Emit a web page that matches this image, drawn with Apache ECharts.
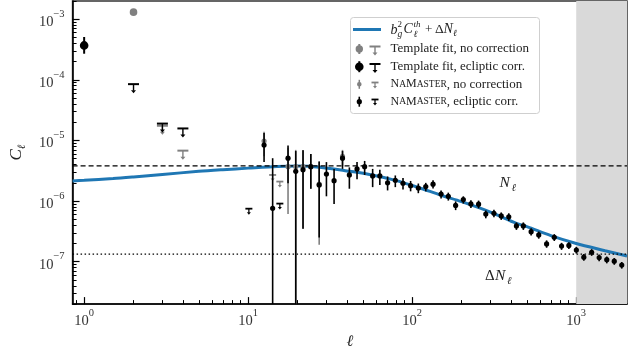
<!DOCTYPE html>
<html>
<head>
<meta charset="utf-8">
<script src="https://cdn.jsdelivr.net/npm/echarts@6/dist/echarts.min.js"></script>
<style>
  html, body { margin: 0; padding: 0; background: #fff; }
  #chart { width: 637px; height: 355px; }
</style>
</head>
<body>
<div id="chart"></div>
<script>
const SERIF = '"Liberation Serif", "DejaVu Serif", serif';
const BLUE = '#1f77b4';
const GREY = '#808080';
const BLACK = '#000000';

const xMin = 0.85, xMax = 2040;
const yMin = 2e-8, yMax = 2e-3;

// b_g^2 C_l^th + dN_l
const thEll = [0.85, 1, 1.5, 2, 3, 5, 7, 10, 15, 20, 28, 40, 57, 79, 109, 150, 200, 300, 432, 500, 700, 1000, 1500, 2040];
const thCl = [2.15e-6, 2.2e-6, 2.35e-6, 2.5e-6, 2.75e-6, 3.1e-6, 3.3e-6, 3.5e-6, 3.72e-6, 3.78e-6, 3.6e-6, 3.15e-6,
  2.7e-6, 2.2e-6, 1.68e-6, 1.25e-6, 9.8e-7, 6.6e-7, 4.3e-7, 3.8e-7, 2.7e-7, 2.0e-7, 1.52e-7, 1.24e-7];

const noiseN = 3.82e-6;
const noiseDN = 1.33e-7;
const maskedFrom = 1000;

// NaMaster, ecliptic corr.
const nmEll = [12.5, 14.1, 17.5, 19.5, 21.6, 24.1, 27.1, 30.0, 33.4, 37.6, 41.4, 46.1, 51.3, 57.4, 63.5, 70.8, 78.9, 87.9, 97.8,
  109, 121, 134, 150, 166, 184, 205, 228, 254, 281, 315, 349, 388, 432, 476, 531, 591, 660, 735, 814, 902,
  1002, 1113, 1242, 1380, 1536, 1706, 1895];
const nmCl = [8.4e-6, 7.6e-7, 5.1e-6, 3.1e-6, 3.3e-6, 3.7e-6, 1.85e-6, 2.8e-6, 2.17e-6, 5.1e-6, 2.7e-6, 3.4e-6, 3.7e-6,
  2.6e-6, 2.6e-6, 2.0e-6, 2.2e-6, 1.97e-6, 1.8e-6,
  1.64e-6, 1.74e-6, 1.9e-6, 1.31e-6, 1.2e-6, 8.5e-7, 1.06e-6, 9.0e-7, 8.9e-7, 6.1e-7, 6.3e-7, 5.7e-7, 5.5e-7,
  3.9e-7, 3.9e-7, 3.13e-7, 2.77e-7, 1.97e-7, 2.53e-7, 1.81e-7, 1.86e-7,
  1.56e-7, 1.19e-7, 1.43e-7, 1.17e-7, 1.08e-7, 1.02e-7, 8.8e-8];
const nmLo = [4.4e-6, 1e-9, 1.97e-6, 1e-9, 3.5e-7, 1.6e-6, 2.5e-7, 1.2e-6, 9.0e-7, 3.4e-6, 1.6e-6, 2.3e-6, 2.7e-6,
  1.7e-6, 1.85e-6, 1.5e-6, 1.7e-6, 1.55e-6, 1.45e-6,
  1.35e-6, 1.45e-6, 1.62e-6, 1.1e-6, 1.02e-6, 7.1e-7, 9.1e-7, 7.7e-7, 7.6e-7, 5.2e-7, 5.4e-7, 4.9e-7, 4.7e-7,
  3.35e-7, 3.35e-7, 2.7e-7, 2.4e-7, 1.7e-7, 2.2e-7, 1.57e-7, 1.62e-7,
  1.36e-7, 1.04e-7, 1.25e-7, 1.02e-7, 9.4e-8, 8.9e-8, 7.7e-8];
const nmHi = [1.33e-5, 5.1e-6, 8.3e-6, 6.7e-6, 6.9e-6, 6.0e-6, 4.5e-6, 4.4e-6, 3.4e-6, 6.7e-6, 3.6e-6, 4.4e-6, 4.6e-6,
  3.4e-6, 3.3e-6, 2.55e-6, 2.65e-6, 2.4e-6, 2.15e-6,
  1.95e-6, 2.0e-6, 2.2e-6, 1.5e-6, 1.38e-6, 9.9e-7, 1.2e-6, 1.03e-6, 1.02e-6, 7.0e-7, 7.2e-7, 6.5e-7, 6.3e-7,
  4.45e-7, 4.45e-7, 3.55e-7, 3.15e-7, 2.25e-7, 2.85e-7, 2.05e-7, 2.1e-7,
  1.76e-7, 1.34e-7, 1.61e-7, 1.32e-7, 1.22e-7, 1.15e-7, 9.9e-8];

// NaMaster, no correction (where it shows from under the corrected points)
const nmRawEll = [12.5, 17.5, 19.5, 21.6, 24.1, 27.1, 37.6];
const nmRawCl = [9.8e-6, 3.7e-6, 3.7e-6, 3.7e-6, 3.7e-6, 1.9e-6, 5.5e-6];
const nmRawLo = [5.5e-6, 6.1e-7, 1e-9, 3.5e-7, 1.6e-6, 1.9e-7, 3.8e-6];
const nmRawHi = [1.4e-5, 7.6e-6, 7.0e-6, 7.0e-6, 6.0e-6, 4.5e-6, 7.0e-6];

// upper limits
const nmUlEll = [10.1, 15.6];
const nmUlCl = [7.5e-7, 9.1e-7];
const nmRawUlEll = [14.1, 15.6];
const nmRawUlCl = [2.7e-6, 2.1e-6];

// template fit
const tfEll = [1];
const tfCl = [3.7e-4];
const tfLo = [2.7e-4];
const tfHi = [5.1e-4];
const tfRawEll = [2];
const tfRawCl = [1.31e-3];
const tfRawLo = [1.27e-3];
const tfRawHi = [1.35e-3];
const tfUlEll = [2, 3, 4];
const tfUlCl = [8.5e-5, 1.9e-5, 1.58e-5];
const tfRawUlEll = [3, 4];
const tfRawUlCl = [1.75e-5, 6.8e-6];

// ticks
const xMajor = [1, 10, 100, 1000];
const xMinor = [0.9, 2, 3, 4, 5, 6, 7, 8, 9, 20, 30, 40, 50, 60, 70, 80, 90,
  200, 300, 400, 500, 600, 700, 800, 900, 2000];
const yMajor = [1e-7, 1e-6, 1e-5, 1e-4, 1e-3];
const yMinor = [2e-8, 3e-8, 4e-8, 5e-8, 6e-8, 7e-8, 8e-8, 9e-8,
  2e-7, 3e-7, 4e-7, 5e-7, 6e-7, 7e-7, 8e-7, 9e-7,
  2e-6, 3e-6, 4e-6, 5e-6, 6e-6, 7e-6, 8e-6, 9e-6,
  2e-5, 3e-5, 4e-5, 5e-5, 6e-5, 7e-5, 8e-5, 9e-5,
  2e-4, 3e-4, 4e-4, 5e-4, 6e-4, 7e-4, 8e-4, 9e-4, 2e-3];

const rows = (ell, cl, lo, hi) => ell.map((e, i) => lo ? [e, cl[i], lo[i], hi[i]] : [e, cl[i]]);

function pointRenderer(r, lw, color) {
  return (params, api) => {
    const p = api.coord([api.value(0), api.value(1)]);
    const lo = api.coord([api.value(0), api.value(2)]);
    const hi = api.coord([api.value(0), api.value(3)]);
    return {
      type: 'group',
      children: [
        { type: 'line', shape: { x1: p[0], y1: lo[1], x2: p[0], y2: hi[1] }, style: { stroke: color, lineWidth: lw } },
        { type: 'circle', shape: { cx: p[0], cy: p[1], r: r }, style: { fill: color } }
      ]
    };
  };
}

function arrowShapes(x, y, cap, len, head, lw, color) {
  return [
    { type: 'line', shape: { x1: x - cap / 2, y1: y, x2: x + cap / 2, y2: y }, style: { stroke: color, lineWidth: lw } },
    { type: 'line', shape: { x1: x, y1: y, x2: x, y2: y + len - head }, style: { stroke: color, lineWidth: lw * 0.7 } },
    { type: 'polygon', shape: { points: [[x - head, y + len - head - 0.5], [x + head, y + len - head - 0.5], [x, y + len]] },
      style: { fill: color } }
  ];
}

function ulRenderer(cap, len, head, lw, color) {
  return (params, api) => {
    const p = api.coord([api.value(0), api.value(1)]);
    return { type: 'group', children: arrowShapes(p[0], p[1], cap, len, head, lw, color) };
  };
}

function dotShapes(x, y, r, barHalf, lw, color) {
  return [
    { type: 'line', shape: { x1: x, y1: y - barHalf, x2: x, y2: y + barHalf }, style: { stroke: color, lineWidth: lw } },
    { type: 'circle', shape: { cx: x, cy: y, r: r }, style: { fill: color } }
  ];
}

const supLabel = v => {
  const e = Math.round(Math.log10(v));
  return '{b|10}{e|' + (e < 0 ? '\u2212' + (-e) : e) + '}';
};
const labelRich = {
  b: { fontFamily: SERIF, fontSize: 14.5, color: '#333', verticalAlign: 'bottom', lineHeight: 21 },
  e: { fontFamily: SERIF, fontSize: 10.5, color: '#333', verticalAlign: 'top', lineHeight: 11 }
};

const chart = echarts.init(document.getElementById('chart'), null, { renderer: 'canvas' });

function txt(x, y, text, size, italic, extra) {
  return Object.assign({
    type: 'text', z: 102,
    style: { x: x, y: y, text: text, fontFamily: SERIF, fontSize: size, fontStyle: italic ? 'italic' : 'normal',
      fill: '#222', verticalAlign: 'middle', align: 'left' }
  }, extra || {});
}

const legendShapes = [].concat(
  dotShapes(359.3, 49, 3.7, 5, 2, GREY), arrowShapes(375, 46.5, 11, 9, 2.5, 2, GREY),
  dotShapes(359.3, 66.7, 4.3, 5.5, 2, BLACK), arrowShapes(375, 64, 11, 9, 2.5, 2, BLACK),
  dotShapes(359.3, 84.3, 2.3, 4.5, 1.5, GREY), arrowShapes(375, 82.5, 7, 6, 2, 1.8, GREY),
  dotShapes(359.3, 101.7, 2.6, 5, 1.6, BLACK), arrowShapes(375, 99.5, 7, 6, 2, 1.8, BLACK)
).map(s => Object.assign(s, { z: 101 }));

const scRich = {
  n: { fontFamily: SERIF, fontSize: 12, fill: '#222' },
  s: { fontFamily: SERIF, fontSize: 9.5, fill: '#222' },
  t: { fontFamily: SERIF, fontSize: 13, fill: '#222' }
};

const option = {
  animation: false,
  backgroundColor: '#fff',
  grid: { left: 72, right: 10, top: 1, bottom: 43, show: true, borderColor: '#333', borderWidth: 1.5 },
  xAxis: [
    {
      type: 'log', logBase: 10, min: xMin, max: xMax,
      name: '\u2113', nameLocation: 'middle', nameGap: 24,
      nameTextStyle: { fontFamily: SERIF, fontSize: 16, fontStyle: 'italic', color: '#222' },
      axisLine: { show: true, lineStyle: { color: '#000', width: 1.5 } },
      axisTick: { inside: true, length: 7, customValues: xMajor, lineStyle: { color: '#000', width: 1.2 } },
      axisLabel: { customValues: xMajor, formatter: supLabel, rich: labelRich, margin: 4 },
      splitLine: { show: false }
    },
    {
      type: 'log', logBase: 10, min: xMin, max: xMax, position: 'bottom',
      axisLine: { show: false },
      axisTick: { inside: true, length: 4, customValues: xMinor, lineStyle: { color: '#000', width: 1 } },
      axisLabel: { show: false }, splitLine: { show: false }
    }
  ],
  yAxis: [
    {
      type: 'log', logBase: 10, min: yMin, max: yMax,
      name: '{c|C}{l|\u2113}', nameLocation: 'middle', nameGap: 40,
      nameTextStyle: {
        rich: {
          c: { fontFamily: SERIF, fontSize: 17, fontStyle: 'italic', color: '#222', verticalAlign: 'top', lineHeight: 20 },
          l: { fontFamily: SERIF, fontSize: 11, fontStyle: 'italic', color: '#222', verticalAlign: 'bottom', lineHeight: 11 }
        }
      },
      axisLine: { show: true, lineStyle: { color: '#000', width: 1.5 } },
      axisTick: { inside: true, length: 7, customValues: yMajor, lineStyle: { color: '#000', width: 1.2 } },
      axisLabel: { customValues: yMajor, formatter: supLabel, rich: labelRich, margin: 8 },
      splitLine: { show: false }
    },
    {
      type: 'log', logBase: 10, min: yMin, max: yMax, position: 'left',
      axisLine: { show: false },
      axisTick: { inside: true, length: 4, customValues: yMinor, lineStyle: { color: '#000', width: 1 } },
      axisLabel: { show: false }, splitLine: { show: false }
    }
  ],
  series: [
    {
      name: 'masked', type: 'custom', z: 1, clip: true,
      data: [[maskedFrom, xMax]],
      encode: { x: [0, 1] },
      renderItem: (params, api) => {
        const a = api.coord([api.value(0), yMax]);
        const b = api.coord([api.value(1), yMin]);
        return { type: 'rect', shape: { x: a[0], y: a[1], width: b[0] - a[0], height: b[1] - a[1] }, style: { fill: '#d9d9d9' } };
      }
    },
    {
      name: 'theory', type: 'line', z: 2, smooth: 0.3, symbol: 'none',
      data: rows(thEll, thCl),
      lineStyle: { color: BLUE, width: 3 }
    },
    {
      name: 'N', type: 'line', z: 3, symbol: 'none',
      data: [[xMin, noiseN], [xMax, noiseN]],
      lineStyle: { color: '#000', width: 1.2, type: [5, 3] }
    },
    {
      name: 'dN', type: 'line', z: 3, symbol: 'none',
      data: [[xMin, noiseDN], [xMax, noiseDN]],
      lineStyle: { color: '#000', width: 1.2, type: [1.5, 2.5] }
    },
    {
      name: 'Template fit, no correction', type: 'custom', z: 4, clip: true,
      data: rows(tfRawEll, tfRawCl, tfRawLo, tfRawHi), encode: { x: 0, y: 1 },
      renderItem: pointRenderer(3.8, 2, GREY)
    },
    {
      name: 'Template fit, no correction UL', type: 'custom', z: 4, clip: true,
      data: rows(tfRawUlEll, tfRawUlCl), encode: { x: 0, y: 1 },
      renderItem: ulRenderer(11, 9, 2.5, 2, GREY)
    },
    {
      name: 'NaMaster, no correction', type: 'custom', z: 4, clip: true,
      data: rows(nmRawEll, nmRawCl, nmRawLo, nmRawHi), encode: { x: 0, y: 1 },
      renderItem: pointRenderer(2.6, 1.6, GREY)
    },
    {
      name: 'NaMaster, no correction UL', type: 'custom', z: 4, clip: true,
      data: rows(nmRawUlEll, nmRawUlCl), encode: { x: 0, y: 1 },
      renderItem: ulRenderer(7, 6, 2, 1.8, GREY)
    },
    {
      name: 'Template fit, ecliptic corr.', type: 'custom', z: 5, clip: true,
      data: rows(tfEll, tfCl, tfLo, tfHi), encode: { x: 0, y: 1 },
      renderItem: pointRenderer(4.3, 2, BLACK)
    },
    {
      name: 'Template fit, ecliptic corr. UL', type: 'custom', z: 5, clip: true,
      data: rows(tfUlEll, tfUlCl), encode: { x: 0, y: 1 },
      renderItem: ulRenderer(11, 9, 2.5, 2, BLACK)
    },
    {
      name: 'NaMaster, ecliptic corr.', type: 'custom', z: 5, clip: true,
      data: rows(nmEll, nmCl, nmLo, nmHi), encode: { x: 0, y: 1 },
      renderItem: pointRenderer(2.6, 1.6, BLACK)
    },
    {
      name: 'NaMaster, ecliptic corr. UL', type: 'custom', z: 5, clip: true,
      data: rows(nmUlEll, nmUlCl), encode: { x: 0, y: 1 },
      renderItem: ulRenderer(7, 6, 2, 1.8, BLACK)
    }
  ],
  graphic: [
    { type: 'rect', z: 100, shape: { x: 350.5, y: 17.5, width: 189, height: 96, r: 3 },
      style: { fill: 'rgba(255,255,255,0.85)', stroke: '#cfcfcf', lineWidth: 1 } },
    { type: 'line', z: 101, shape: { x1: 353, y1: 29.5, x2: 381, y2: 29.5 }, style: { stroke: BLUE, lineWidth: 3 } },
    ...legendShapes,
    // b_g^2 C_l^th + dN_l
    txt(390.5, 30, 'b', 14, true),
    txt(397.5, 25, '2', 9, false),
    txt(397.5, 34, 'g', 9.5, true),
    txt(403.5, 29.5, 'C', 14, true),
    txt(413.5, 25, 'th', 9, true),
    txt(413.5, 34, '\u2113', 9.5, true),
    txt(425, 29.5, '+', 13, false),
    txt(435, 29.5, '\u0394', 13.5, false),
    txt(443.5, 29.5, 'N', 14, true),
    txt(453, 33.5, '\u2113', 9.5, true),
    txt(390.5, 49, 'Template fit, no correction', 13, false),
    txt(390.5, 66.7, 'Template fit, ecliptic corr.', 13, false),
    { type: 'text', z: 102, style: { x: 390.5, y: 84.3, verticalAlign: 'middle',
      text: '{n|N}{s|A}{n|M}{s|ASTER}{t|, no correction}', rich: scRich } },
    { type: 'text', z: 102, style: { x: 390.5, y: 101.7, verticalAlign: 'middle',
      text: '{n|N}{s|A}{n|M}{s|ASTER}{t|, ecliptic corr.}', rich: scRich } },
    // noise annotations
    txt(499.5, 183, 'N', 15.5, true),
    txt(511.5, 188, '\u2113', 10.5, true),
    txt(485, 276, '\u0394', 15, false),
    txt(495, 276, 'N', 15.5, true),
    txt(507, 281, '\u2113', 10.5, true)
  ]
};

chart.setOption(option);
</script>
</body>
</html>
